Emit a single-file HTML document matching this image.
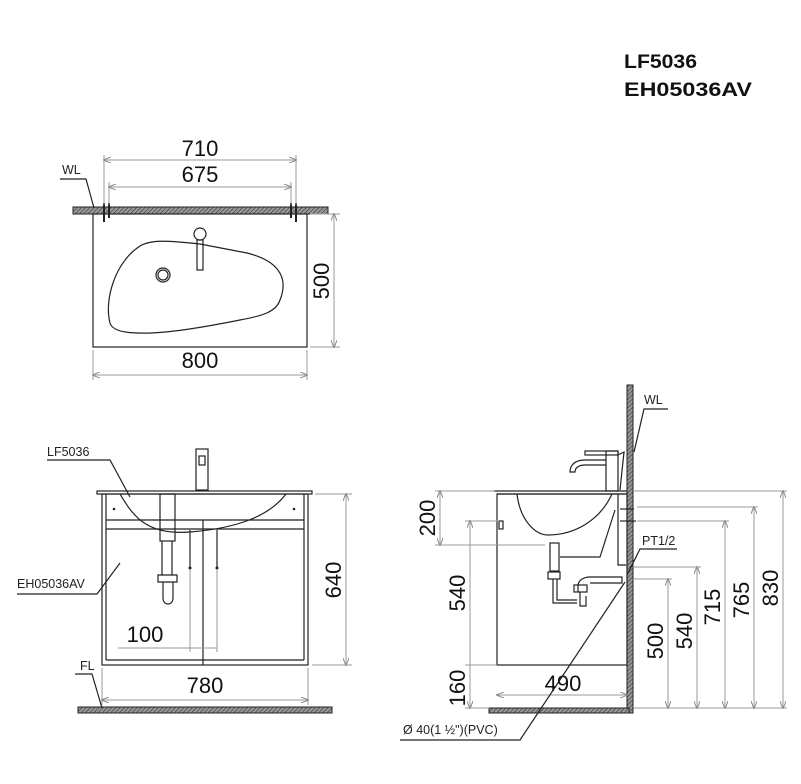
<!DOCTYPE html>
<html><head><meta charset="utf-8"><style>
html,body{margin:0;padding:0;background:#fff;}
svg{display:block;font-family:"Liberation Sans",sans-serif;}
.d{stroke:#999;stroke-width:1;fill:none}
.k{stroke:#222;stroke-width:1.2;fill:none}
.t{font-size:22px;fill:#111}
.s{font-size:12.5px;fill:#222}
</style></head><body>
<svg width="801" height="784" viewBox="0 0 801 784">
<defs>
<pattern id="h" width="3" height="3" patternUnits="userSpaceOnUse" patternTransform="rotate(45)">
<rect width="3" height="3" fill="#999"/><line x1="0" y1="0" x2="0" y2="3" stroke="#333" stroke-width="1.2"/></pattern>
<marker id="a" markerWidth="8" markerHeight="6" refX="7" refY="3" orient="auto-start-reverse"><path d="M0,0 L8,3 L0,6" fill="none" stroke="#888" stroke-width="1"/></marker>
</defs>
<text x="624" y="68" font-size="19" font-weight="bold" fill="#111" textLength="73" lengthAdjust="spacingAndGlyphs">LF5036</text>
<text x="624" y="96" font-size="19" font-weight="bold" fill="#111" textLength="128" lengthAdjust="spacingAndGlyphs">EH05036AV</text>

<!-- TOP VIEW -->
<rect x="73" y="207" width="255" height="7" fill="url(#h)" stroke="#222"/>
<rect x="93" y="214" width="214" height="133" class="k"/>
<path class="k" d="M110,323 C104,300 115,262 140,246 C150,240 165,240 200,244 L247,253 C275,260 290,275 280,300 C276,312 262,316 240,320 C200,328 160,334 140,333 C122,333 112,330 110,323 Z"/>
<circle cx="200" cy="234" r="6" class="k"/>
<rect x="197" y="240" width="6" height="30" class="k"/>
<circle cx="163" cy="275" r="7" class="k"/><circle cx="163" cy="275" r="5" class="k"/>
<g stroke="#222" stroke-width="2"><line x1="104" y1="203" x2="104" y2="222"/><line x1="109" y1="203" x2="109" y2="218"/><line x1="291" y1="203" x2="291" y2="218"/><line x1="296" y1="203" x2="296" y2="222"/></g>
<line class="d" x1="104" y1="160" x2="296" y2="160" marker-start="url(#a)" marker-end="url(#a)"/>
<line class="d" x1="104" y1="155" x2="104" y2="205"/><line class="d" x1="296" y1="155" x2="296" y2="205"/>
<line class="d" x1="109" y1="187" x2="291" y2="187" marker-start="url(#a)" marker-end="url(#a)"/>
<line class="d" x1="109" y1="182" x2="109" y2="205"/><line class="d" x1="291" y1="182" x2="291" y2="205"/>
<text class="t" x="200" y="156" text-anchor="middle">710</text>
<text class="t" x="200" y="182" text-anchor="middle">675</text>
<line class="d" x1="334" y1="214" x2="334" y2="347" marker-start="url(#a)" marker-end="url(#a)"/>
<line class="d" x1="310" y1="214" x2="340" y2="214"/><line class="d" x1="310" y1="347" x2="340" y2="347"/>
<text class="t" transform="translate(329,281) rotate(-90)" text-anchor="middle">500</text>
<line class="d" x1="93" y1="375" x2="307" y2="375" marker-start="url(#a)" marker-end="url(#a)"/>
<line class="d" x1="93" y1="350" x2="93" y2="380"/><line class="d" x1="307" y1="350" x2="307" y2="380"/>
<text class="t" x="200" y="368" text-anchor="middle">800</text>
<text class="s" x="62" y="174">WL</text>
<polyline class="k" stroke-width="0.8" points="60,179 86,179 94,208"/>

<!-- FRONT VIEW -->
<rect x="97" y="491" width="215" height="3" class="k" fill="#eee"/>
<rect x="102" y="494" width="206" height="171" class="k"/>
<line class="k" x1="106" y1="494" x2="106" y2="660"/><line class="k" x1="304" y1="494" x2="304" y2="660"/>
<line class="k" x1="106" y1="520" x2="304" y2="520"/><line class="k" x1="106" y1="529" x2="304" y2="529"/>
<line class="k" x1="106" y1="660" x2="304" y2="660"/><line class="k" x1="203" y1="520" x2="203" y2="665"/>
<path class="k" d="M120,494 C135,520 150,535 190,532 C240,528 270,515 286,494"/>
<rect x="196" y="449" width="12" height="41" class="k"/>
<rect x="199" y="456" width="6" height="9" class="k"/>
<rect x="160" y="494" width="15" height="47" class="k"/>
<path class="k" d="M162,541 L162,575 M172,541 L172,575 M158,575 L177,575 L177,582 L158,582 Z M163,582 L163,598 C163,606 173,606 173,598 L173,582"/>
<line class="k" x1="190" y1="530" x2="190" y2="568"/><line class="k" x1="217" y1="530" x2="217" y2="568"/>
<circle cx="190" cy="568" r="1.5" fill="#222"/><circle cx="217" cy="568" r="1.5" fill="#222"/>
<circle cx="114" cy="509" r="1.3" fill="#222"/><circle cx="294" cy="509" r="1.3" fill="#222"/>
<rect x="78" y="707" width="254" height="6" fill="url(#h)" stroke="#222"/>
<line class="d" x1="346" y1="494" x2="346" y2="665" marker-start="url(#a)" marker-end="url(#a)"/>
<line class="d" x1="315" y1="494" x2="352" y2="494"/><line class="d" x1="312" y1="665" x2="352" y2="665"/>
<text class="t" transform="translate(341,580) rotate(-90)" text-anchor="middle">640</text>
<line class="d" x1="102" y1="700" x2="308" y2="700" marker-start="url(#a)" marker-end="url(#a)"/>
<line class="d" x1="102" y1="668" x2="102" y2="705"/><line class="d" x1="308" y1="668" x2="308" y2="705"/>
<text class="t" x="205" y="693" text-anchor="middle">780</text>
<line class="d" x1="118" y1="648" x2="217" y2="648"/>
<line class="d" x1="190" y1="570" x2="190" y2="652"/><line class="d" x1="217" y1="570" x2="217" y2="652"/>
<text class="t" x="145" y="642" text-anchor="middle">100</text>
<text class="s" x="47" y="456">LF5036</text>
<polyline class="k" stroke-width="0.8" points="47,460 110,460 130,497"/>
<text class="s" x="17" y="588">EH05036AV</text>
<polyline class="k" stroke-width="0.8" points="17,594 97,594 120,563"/>
<text class="s" x="80" y="670">FL</text>
<polyline class="k" stroke-width="0.8" points="75,674 92,674 102,708"/>

<!-- SIDE VIEW -->
<rect x="627" y="385" width="6" height="328" fill="url(#h)" stroke="#222"/>
<rect x="489" y="708" width="140" height="5" fill="url(#h)" stroke="#222"/>
<line class="k" x1="493" y1="491" x2="627" y2="491"/>
<rect x="497" y="494" width="130" height="171" class="k"/>
<line class="k" x1="497" y1="494" x2="627" y2="494"/>
<path class="k" d="M517,494 C520,520 535,535 548,535 C575,535 600,520 612,494"/>
<rect x="499" y="521" width="4" height="8" class="k"/>
<rect x="606" y="451" width="12" height="40" class="k"/>
<rect x="585" y="451" width="33" height="4" class="k"/>
<path class="k" d="M606,460 L585,460 C575,460 570,465 570,472 L575,472 C575,467 580,465 585,465 L606,465"/>
<path class="k" d="M618,455 L624,452 L620,490"/>
<rect x="550" y="543" width="9" height="28" class="k"/>
<rect x="548" y="572" width="12" height="7" class="k"/>
<path class="k" d="M553,579 L553,603 L577,603 M557,579 L557,600 L577,600"/>
<rect x="574" y="585" width="13" height="7" class="k"/>
<path class="k" d="M578,592 L578,586 C578,580 584,577 590,577 L622,577 L622,583 L590,583 M580,592 L580,606 L586,606 L586,596"/>
<path class="k" stroke-width="0.8" d="M560,557 L600,557 L615,510 M618,494 L618,565 L626,565"/>
<line class="k" stroke-width="2.5" x1="620" y1="509" x2="634" y2="509"/>
<line class="k" stroke-width="2.5" x1="620" y1="521" x2="636" y2="521"/>
<!-- dims -->
<line class="d" x1="440" y1="491" x2="440" y2="545" marker-start="url(#a)" marker-end="url(#a)"/>
<line class="d" x1="435" y1="491" x2="495" y2="491"/><line class="d" x1="435" y1="545" x2="545" y2="545"/>
<text class="t" transform="translate(435,518) rotate(-90)" text-anchor="middle">200</text>
<line class="d" x1="470" y1="521" x2="470" y2="665" marker-start="url(#a)"/>
<line class="d" x1="470" y1="665" x2="470" y2="708" marker-end="url(#a)"/>
<line class="d" x1="465" y1="521" x2="499" y2="521"/><line class="d" x1="465" y1="665" x2="497" y2="665"/>
<line class="d" x1="465" y1="708" x2="489" y2="708"/>
<text class="t" transform="translate(465,593) rotate(-90)" text-anchor="middle">540</text>
<text class="t" transform="translate(465,688) rotate(-90)" text-anchor="middle">160</text>
<line class="d" x1="497" y1="695" x2="627" y2="695" marker-start="url(#a)" marker-end="url(#a)"/>
<text class="t" x="563" y="691" text-anchor="middle">490</text>
<g>
<line class="d" x1="668" y1="579" x2="668" y2="708" marker-start="url(#a)" marker-end="url(#a)"/>
<line class="d" x1="634" y1="579" x2="672" y2="579"/>
<line class="d" x1="697" y1="567" x2="697" y2="708" marker-start="url(#a)" marker-end="url(#a)"/>
<line class="d" x1="634" y1="567" x2="701" y2="567"/>
<line class="d" x1="725" y1="521" x2="725" y2="708" marker-start="url(#a)" marker-end="url(#a)"/>
<line class="d" x1="637" y1="521" x2="729" y2="521"/>
<line class="d" x1="754" y1="507" x2="754" y2="708" marker-start="url(#a)" marker-end="url(#a)"/>
<line class="d" x1="637" y1="507" x2="758" y2="507"/>
<line class="d" x1="783" y1="491" x2="783" y2="708" marker-start="url(#a)" marker-end="url(#a)"/>
<line class="d" x1="634" y1="491" x2="787" y2="491"/>
<line class="d" x1="634" y1="708" x2="787" y2="708"/>
</g>
<text class="t" transform="translate(663,641) rotate(-90)" text-anchor="middle">500</text>
<text class="t" transform="translate(692,631) rotate(-90)" text-anchor="middle">540</text>
<text class="t" transform="translate(720,607) rotate(-90)" text-anchor="middle">715</text>
<text class="t" transform="translate(749,600) rotate(-90)" text-anchor="middle">765</text>
<text class="t" transform="translate(778,588) rotate(-90)" text-anchor="middle">830</text>
<text class="s" x="644" y="404">WL</text>
<polyline class="k" stroke-width="0.8" points="668,409 644,409 634,452"/>
<text class="s" x="642" y="545">PT1/2</text>
<polyline class="k" stroke-width="0.8" points="677,549 640,549 627,575"/>
<text class="s" x="403" y="734">Ø  40(1 ½")(PVC)</text>
<polyline class="k" stroke-width="0.8" points="400,740 520,740 625,582"/>
</svg>
</body></html>
